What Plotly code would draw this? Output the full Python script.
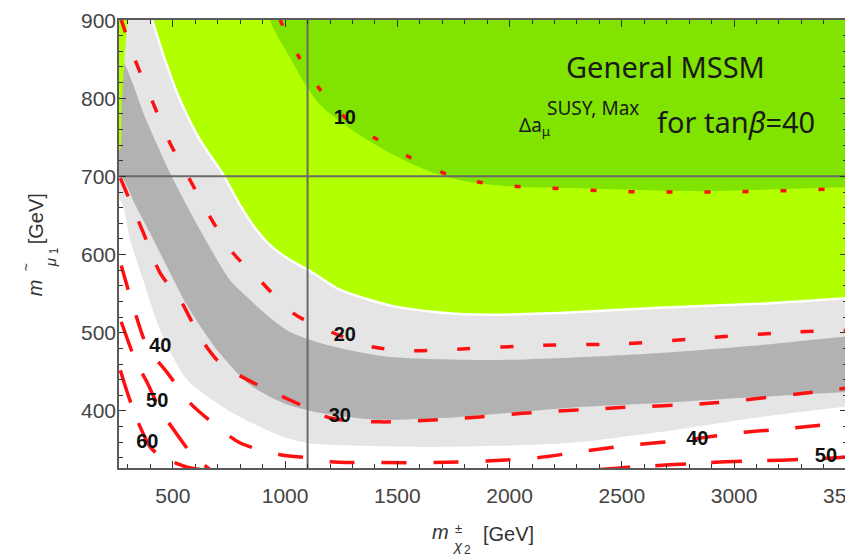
import plotly.graph_objects as go

# ---------------- axis settings ----------------
X_RANGE = [260, 3503]
Y_RANGE = [327, 900]
x_tickvals = [500, 1000, 1500, 2000, 2500, 3000, 3500]
y_tickvals = [400, 500, 600, 700, 800, 900]
vline_x = [1100]
hline_y = [700]

# ---------------- region boundaries ----------------
# dark green (upper right) boundary
dkgreen_x = [933, 1022, 1097, 1168, 1320, 1466, 1658, 1835, 2058, 2267, 2845, 3494]
dkgreen_y = [900, 852, 814, 788, 755, 730, 705, 692, 686, 685, 681, 686]

# light green lower boundary (white edge)
ltgreen_x = [408, 466, 533, 622, 720, 800, 866, 933, 1022, 1111, 1244, 1466, 1689, 1911, 2267, 2667, 3112, 3499]
ltgreen_y = [900, 848, 797, 746, 704, 663, 634, 612, 593, 579, 555, 535, 526, 523, 526, 532, 537, 544]

# small green sliver on the left edge
sliver_x = [297, 284, 271, 261]
sliver_y = [900, 848, 784, 733]

# dark grey band
dkgrey_up_x = [266, 377, 488, 622, 755, 844, 933, 1022, 1155, 1333, 1466, 1911, 2267, 2667, 3112, 3499]
dkgrey_up_y = [851, 775, 704, 631, 567, 542, 519, 501, 487, 475, 469, 465, 468, 474, 484, 495]
dkgrey_lo_x = [266, 333, 399, 466, 564, 697, 844, 991, 1098, 1169, 1391, 1764, 2267, 2667, 3112, 3499]
dkgrey_lo_y = [701, 663, 627, 589, 535, 478, 433, 410, 401, 397, 389, 392, 404, 410, 418, 424]

# light grey band lower boundary
ltgrey_lo_x = [266, 310, 368, 444, 564, 769, 991, 1098, 1169, 1613, 2267, 2667, 3112, 3499]
ltgrey_lo_y = [669, 618, 567, 503, 440, 397, 367, 359, 357, 354, 359, 373, 392, 405]

# ---------------- contour lines ----------------
c10_x = [977, 1008, 1088, 1186, 1311, 1453, 1604, 1760, 1924, 2098, 2267, 2436, 2605, 2774, 2947, 3116, 3285, 3454, 3499]
c10_y = [900, 883, 839, 800, 764, 741, 717, 699, 690, 686, 684, 681, 680, 680, 680, 681, 682, 684, 684]

c20_x = [270, 333, 413, 488, 577, 666, 768, 888, 1035, 1213, 1386, 1568, 1764, 2147, 2520, 2903, 3281, 3494]
c20_y = [900, 848, 793, 742, 695, 648, 602, 567, 525, 500, 482, 477, 479, 484, 486, 494, 501, 503]

c30_x = [266, 364, 444, 533, 622, 711, 831, 991, 1067, 1200, 1422, 1635, 1853, 2058, 2476, 2898, 3320, 3494]
c30_y = [698, 631, 576, 542, 494, 461, 440, 418, 408, 391, 386, 388, 392, 397, 404, 410, 423, 429]

c40_x = [270, 324, 386, 475, 577, 698, 800, 978, 1098, 1200, 1422, 1658, 1898, 2120, 2343, 2569, 2787, 3023, 3258, 3494]
c40_y = [586, 533, 482, 449, 410, 380, 359, 344, 340, 335, 334, 334, 336, 340, 349, 357, 363, 372, 378, 385]

c50a_x = [270, 333, 386, 444, 511, 587, 666]
c50a_y = [514, 465, 436, 401, 373, 344, 325]
c50b_x = [2400, 2534, 2711, 2961, 3214, 3454, 3494]
c50b_y = [325, 328, 331, 335, 337, 340, 341]

c60_x = [266, 301, 346, 399, 444, 497, 564, 622]
c60_y = [452, 420, 385, 354, 342, 335, 328, 325]

label_text = ["10", "20", "30", "40", "50", "60", "40", "50"]
label_x = [1266, 1266, 1244, 444, 430, 386, 2836, 3409]
label_y = [774, 496, 392, 482, 411, 359, 363, 341]

# ---------------- colours ----------------
C_DKGREEN = "#80E400"
C_LTGREEN = "#B2FF00"
C_LTGREY = "#E5E5E5"
C_DKGREY = "#B2B2B2"
C_RED = "#FF1010"

XL, XR = X_RANGE[0] - 60, X_RANGE[1] + 100
YT = Y_RANGE[1] + 60

fig = go.Figure()


def fill(xs, ys, color):
    fig.add_trace(go.Scatter(x=xs, y=ys, mode="lines", fill="toself", fillcolor=color,
                             line=dict(width=0, color=color, shape="spline", smoothing=0.7),
                             hoverinfo="skip", showlegend=False))


# light grey: everything above the light grey lower boundary
fill([XL] + ltgrey_lo_x + [XR, XR, XL],
     [ltgrey_lo_y[0]] + ltgrey_lo_y + [ltgrey_lo_y[-1], YT, YT], C_LTGREY)

# dark grey band
fill([XL] + dkgrey_up_x + [XR, XR] + dkgrey_lo_x[::-1] + [XL],
     [dkgrey_up_y[0]] + dkgrey_up_y + [dkgrey_up_y[-1], dkgrey_lo_y[-1]] + dkgrey_lo_y[::-1] + [dkgrey_lo_y[0]],
     C_DKGREY)

# left green sliver
fill([sliver_x[0]] + sliver_x + [XL, XL],
     [YT] + sliver_y + [sliver_y[-1], YT], C_LTGREEN)

# light green region
fill([ltgreen_x[0]] + ltgreen_x + [XR, XR],
     [YT] + ltgreen_y + [ltgreen_y[-1], YT], C_LTGREEN)

# dark green region
fill([dkgreen_x[0]] + dkgreen_x + [XR, XR],
     [YT] + dkgreen_y + [dkgreen_y[-1], YT], C_DKGREEN)

# white edge between green and grey
fig.add_trace(go.Scatter(x=ltgreen_x + [XR], y=ltgreen_y + [ltgreen_y[-1]], mode="lines",
                         line=dict(color="white", width=2.5, shape="spline", smoothing=0.7),
                         hoverinfo="skip", showlegend=False))

# grid lines
for xv in vline_x:
    fig.add_trace(go.Scatter(x=[xv, xv], y=[Y_RANGE[0] - 50, YT], mode="lines",
                             line=dict(color="#6a6a6a", width=2), hoverinfo="skip", showlegend=False))
for yv in hline_y:
    fig.add_trace(go.Scatter(x=[XL, XR], y=[yv, yv], mode="lines",
                             line=dict(color="#6a6a6a", width=2), hoverinfo="skip", showlegend=False))

# contours
contours = [
    (c10_x, c10_y, "6px,32px"),
    (c20_x, c20_y, "13px,30px"),
    (c30_x, c30_y, "20px,27px"),
    (c40_x, c40_y, "25px,27px"),
    (c50a_x, c50a_y, "31px,25px"),
    (c50b_x, c50b_y, "31px,25px"),
    (c60_x, c60_y, "34px,22px"),
]
for cx, cy, dash in contours:
    fig.add_trace(go.Scatter(x=cx, y=cy, mode="lines", line=dict(color=C_RED, width=3.5, dash=dash,
                                                                shape="spline", smoothing=0.8),
                             hoverinfo="skip", showlegend=False))

# contour labels
fig.add_trace(go.Scatter(x=label_x, y=label_y, mode="text", text=["<b>%s</b>" % t for t in label_text],
                         textfont=dict(family="Liberation Sans, Arial", size=20, color="#111111"),
                         textposition="middle center", hoverinfo="skip", showlegend=False))

# ---------------- layout ----------------
# target plot-area edges in screen pixels; the page body adds an 8px offset
OFF = 8
PX_L, PX_R, PX_T, PX_B = 119, 847, 19.5, 468


def px2paper(px, py):
    return (px - PX_L) / (PX_R - PX_L), (PX_B - py) / (PX_B - PX_T)


annotations = []
AX = "Liberation Sans, Arial"


def ann(text, px, py, size, family="Noto Sans", angle=0, xanchor="center", color="#1a1a1a"):
    x, y = px2paper(px, py)
    annotations.append(dict(text=text, x=x, y=y, xref="paper", yref="paper", showarrow=False,
                            xanchor=xanchor, yanchor="middle", textangle=angle,
                            font=dict(family=family, size=size, color=color)))


ann("General MSSM", 665, 66, 29)
ann("Δa<sub>μ</sub>", 517, 126, 19, xanchor="left")
ann("SUSY, Max", 545, 108, 19, xanchor="left")
ann("for tan<i>β</i>=40", 655, 121, 29, xanchor="left")

# x axis title
ann("<i>m</i>", 440, 532, 20, family=AX, color="#333333")
ann("±", 458, 529, 13, family=AX, color="#333333")
ann("<i>χ</i>", 457, 546, 15, family=AX, color="#333333")
ann("2", 467, 550, 12, family=AX, color="#333333")
ann("[GeV]", 508, 534, 20, family=AX, color="#333333")

# y axis title (rotated)
ann("<i>m</i>", 35, 288, 20, family=AX, angle=-90, color="#333333")
ann("~", 26, 267, 14, family=AX, angle=-90, color="#333333")
ann("<i>μ</i>", 50, 263, 15, family=AX, angle=-90, color="#333333")
ann("1", 54, 251, 12, family=AX, angle=-90, color="#333333")
ann("[GeV]", 36, 219, 20, family=AX, angle=-90, color="#333333")

# y tick labels placed right against the frame
for v in y_tickvals:
    annotations.append(dict(text=str(v), x=0, xref="paper", y=v, yref="y", xanchor="right",
                            yanchor="middle", xshift=-1, showarrow=False,
                            font=dict(family=AX, size=21, color="#444444")))

axis_common = dict(showgrid=False, zeroline=False, showline=True, linecolor="#5a5a5a", linewidth=1.5,
                   mirror="ticks", ticks="inside", ticklen=7, tickwidth=1.2, tickcolor="#333333",
                   automargin=False,
                   tickfont=dict(family=AX, size=21, color="#444444"))

fig.update_layout(
    width=853, height=560,
    margin=dict(l=PX_L - OFF, r=853 - (PX_R - OFF), t=PX_T - OFF, b=560 - (PX_B - OFF)),
    paper_bgcolor="white", plot_bgcolor="white",
    xaxis=dict(range=X_RANGE, tickvals=x_tickvals, ticktext=[str(v) for v in x_tickvals],
               minor=dict(dtick=100, tick0=0, ticks="inside", ticklen=4, tickcolor="#333333"),
               ticklabelstandoff=8, ticklabeloverflow="allow", **axis_common),
    yaxis=dict(range=Y_RANGE, tickvals=y_tickvals, showticklabels=False,
               minor=dict(dtick=20, tick0=0, ticks="inside", ticklen=4, tickcolor="#333333"),
               **axis_common),
    annotations=annotations,
)

fig.write_html("out.html")
